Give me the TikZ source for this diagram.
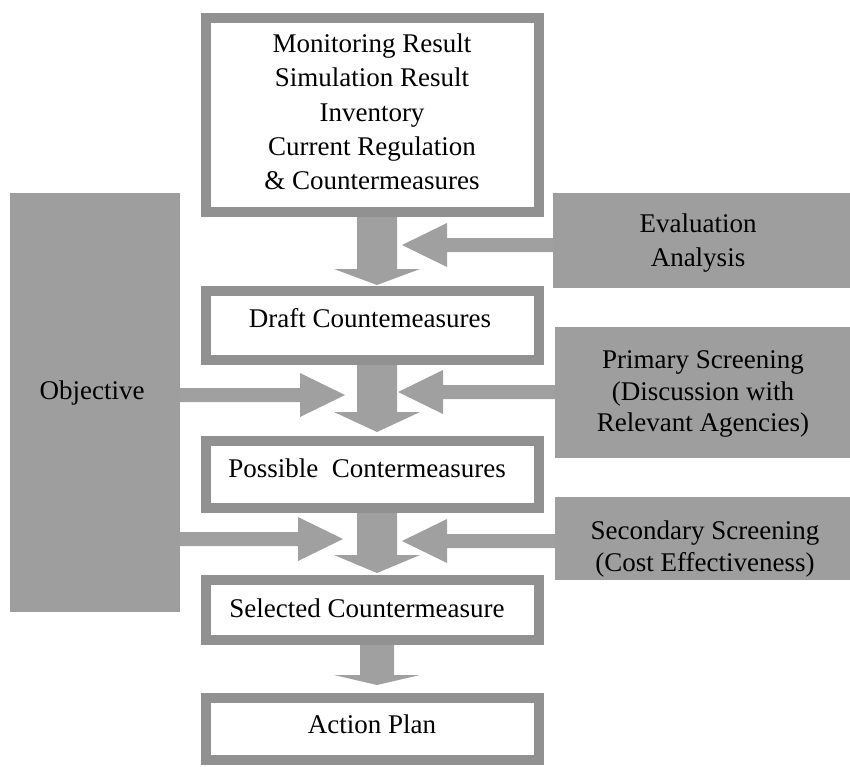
\documentclass[tikz,border=0pt]{standalone}
\usepackage{fontspec}
\setmainfont{Liberation Serif}
\usetikzlibrary{calc}
\definecolor{boxgray}{RGB}{158,158,158}
\definecolor{framegray}{RGB}{145,145,145}
\definecolor{arrowgray}{RGB}{160,160,160}
\newcommand\blkdown[5]{%
  \fill[arr] let \p1=(#1.south), \p2=(#2.north) in
    ({\x1+4.5pt-#5pt},\y1) -- ({\x1+4.5pt+#5pt},\y1)
    -- ({\x1+4.5pt+#5pt},{\y2+#3pt+#4pt}) -- ({\x1+4.5pt+43pt},{\y2+#3pt+#4pt})
    -- ({\x1+4.5pt},{\y2+#3pt})
    -- ({\x1+4.5pt-43pt},{\y2+#3pt+#4pt}) -- ({\x1+4.5pt-#5pt},{\y2+#3pt+#4pt}) -- cycle;}
\newcommand\blkleft[2]{%
  \fill[arr] let \p1=(#1.west), \p2=(#2) in
    (\x1,{\y2+7pt}) -- ({\x2+45pt},{\y2+7pt}) -- ({\x2+45pt},{\y2+22pt})
    -- (\x2,\y2) -- ({\x2+45pt},{\y2-22pt}) -- ({\x2+45pt},{\y2-7pt})
    -- (\x1,{\y2-7pt}) -- cycle;}
\newcommand\blkright[2]{%
  \fill[arr] let \p1=(#1.east), \p2=(#2) in
    (\x1,{\y2+7pt}) -- ({\x2-45pt},{\y2+7pt}) -- ({\x2-45pt},{\y2+22pt})
    -- (\x2,\y2) -- ({\x2-45pt},{\y2-22pt}) -- ({\x2-45pt},{\y2-7pt})
    -- (\x1,{\y2-7pt}) -- cycle;}
\begin{document}
\begin{tikzpicture}[x=1pt,y=-1pt,
  wbox/.style={draw=framegray, line width=10pt, fill=white, inner sep=0pt, minimum width=333pt},
  gbox/.style={fill=boxgray, inner sep=0pt},
  txt/.style={align=center, inner sep=0pt, text=black},
  arr/.style={fill=arrowgray}]
\useasboundingbox (0,0) rectangle (850,766);
% gray boxes
\node[gbox, minimum width=297pt, minimum height=95pt] (eval) at (701.5,240.5) {};
\node[gbox, minimum width=295pt, minimum height=131pt] (prim) at (702.5,392.5) {};
\node[gbox, minimum width=295pt, minimum height=83pt] (sec) at (702.5,538.5) {};
\node[gbox, minimum width=170pt, minimum height=419pt] (obj) at (95,402.5) {};
% white boxes
\node[wbox, minimum height=194pt] (src) at (372.5,115) {};
\node[wbox, minimum height=69pt] (draft) at (372.5,325.5) {};
\node[wbox, minimum height=67pt] (poss) at (372.5,474.5) {};
\node[wbox, minimum height=60pt] (sel) at (372.5,610) {};
\node[wbox, minimum height=62pt] (act) at (372.5,729) {};
% arrow tips
\coordinate (tipE) at (402,245);
\coordinate (tipOa) at (345,395);
\coordinate (tipP) at (398,392);
\coordinate (tipOb) at (343,539);
\coordinate (tipS) at (402,541);
% vertical arrows
\blkdown{src}{draft}{1}{16}{20}
\blkdown{draft}{poss}{4}{20}{20}
\blkdown{poss}{sel}{2}{18}{20}
\blkdown{sel}{act}{8}{10}{17}
% horizontal arrows
\blkleft{eval}{tipE}
\blkright{obj}{tipOa}
\blkleft{prim}{tipP}
\blkright{obj}{tipOb}
\blkleft{sec}{tipS}
% texts
\node[txt, font=\fontsize{27}{34.25}\selectfont] (srcT) at (372,112)
  {Monitoring Result\\Simulation Result\\Inventory\\Current Regulation\\\& Countermeasures};
\node[txt, font=\fontsize{27}{30}\selectfont] (draftT) at (370,318) {Draft Countemeasures};
\node[txt, font=\fontsize{27}{30}\selectfont] (possT) at (367,468) {Possible\ \ Contermeasures};
\node[txt, font=\fontsize{27}{30}\selectfont] (selT) at (367,608) {Selected Countermeasure};
\node[txt, font=\fontsize{27}{30}\selectfont] (actT) at (372,724) {Action Plan};
\node[txt, font=\fontsize{27}{34}\selectfont] (evalT) at (698,243) {Evaluation\\Analysis};
\node[txt, font=\fontsize{27}{31.5}\selectfont] (primT) at (703,394) {Primary Screening\\(Discussion with\\Relevant Agencies)};
\node[txt, font=\fontsize{27}{32}\selectfont] (secT) at (705,548.5) {Secondary Screening\\(Cost Effectiveness)};
\node[txt, font=\fontsize{27}{30}\selectfont] (objT) at (92,393) {Objective};
\end{tikzpicture}
\end{document}
